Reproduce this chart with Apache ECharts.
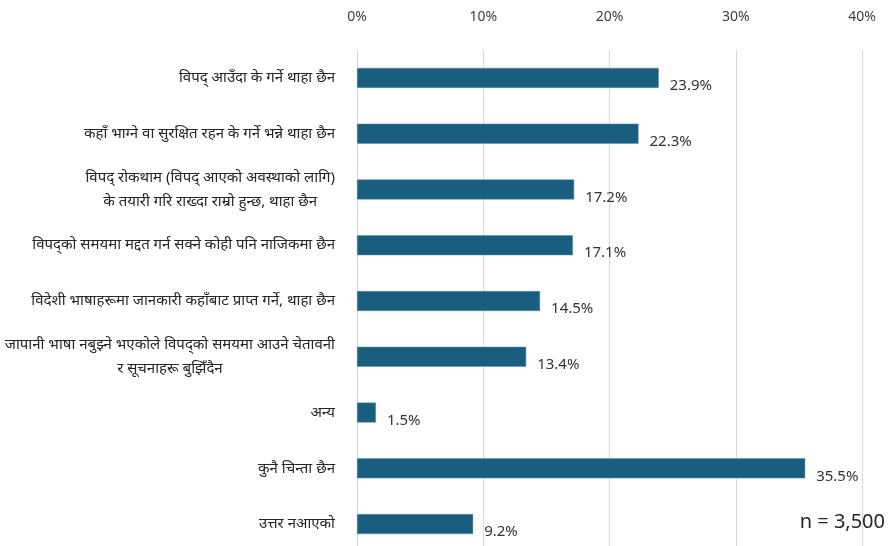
<!DOCTYPE html>
<html>
<head>
<meta charset="utf-8">
<script src="https://cdn.jsdelivr.net/npm/echarts@6/dist/echarts.min.js"></script>
<style>
html, body { margin: 0; padding: 0; background: #fff; }
#main { width: 889px; height: 546px; }
</style>
</head>
<body>
<div id="main"></div>
<script>
var categories = [
    'विपद् आउँदा के गर्ने थाहा छैन',
    'कहाँ भाग्ने वा सुरक्षित रहन के गर्ने भन्ने थाहा छैन',
    'विपद् रोकथाम (विपद् आएको अवस्थाको लागि)\nके तयारी गरि राख्दा राम्रो हुन्छ, थाहा छैन',
    'विपद्को समयमा मद्दत गर्न सक्ने कोही पनि नाजिकमा छैन',
    'विदेशी भाषाहरूमा जानकारी कहाँबाट प्राप्त गर्ने, थाहा छैन',
    'जापानी भाषा नबुझ्ने भएकोले विपद्को समयमा आउने चेतावनी\nर सूचनाहरू बुझिँदैन',
    'अन्य',
    'कुनै चिन्ता छैन',
    'उत्तर नआएको'
];
var values = [23.9, 22.3, 17.2, 17.1, 14.5, 13.4, 1.5, 35.5, 9.2];
var sampleNote = 'n = 3,500';

var myChart = echarts.init(document.getElementById('main'));
var font = '"Segoe UI", "Noto Sans", "Open Sans", sans-serif';

var option = {
    animation: false,
    grid: {
        left: 357,
        top: 50,
        width: 505,
        height: 502,
        outerBoundsMode: 'none'
    },
    xAxis: {
        type: 'value',
        position: 'top',
        min: 0,
        max: 40,
        interval: 10,
        axisLine: {show: false},
        axisTick: {show: false},
        splitLine: {lineStyle: {color: '#d9d9d9', width: 1}},
        axisLabel: {
            margin: 26,
            color: '#404040',
            fontSize: 14,
            fontFamily: font,
            formatter: '{value}%'
        }
    },
    yAxis: {
        type: 'category',
        inverse: true,
        data: categories,
        axisLine: {show: false},
        axisTick: {show: false},
        axisLabel: {
            margin: 22,
            color: '#262626',
            fontSize: 15,
            lineHeight: 24,
            fontFamily: font,
            formatter: function (v) {
                return v.split('\n').map(function (l) { return '{c|' + l + '}'; }).join('\n');
            },
            rich: {
                c: {align: 'center', color: '#262626', fontSize: 15, lineHeight: 24, fontFamily: font}
            }
        }
    },
    series: [
        {
            type: 'bar',
            data: values,
            barWidth: 20,
            itemStyle: {color: '#195e7e', borderColor: '#5f8fa8', borderWidth: 0.5},
            label: {
                show: true,
                position: 'right',
                distance: 11,
                offset: [0, 8],
                color: '#333',
                fontSize: 15,
                fontFamily: font,
                formatter: function (p) { return p.value.toFixed(1) + '%'; }
            }
        }
    ],
    graphic: [
        {
            type: 'text',
            right: 4,
            top: 512,
            style: {text: sampleNote, fontSize: 20, fill: '#262626', fontFamily: font}
        }
    ]
};

myChart.setOption(option);
</script>
</body>
</html>
